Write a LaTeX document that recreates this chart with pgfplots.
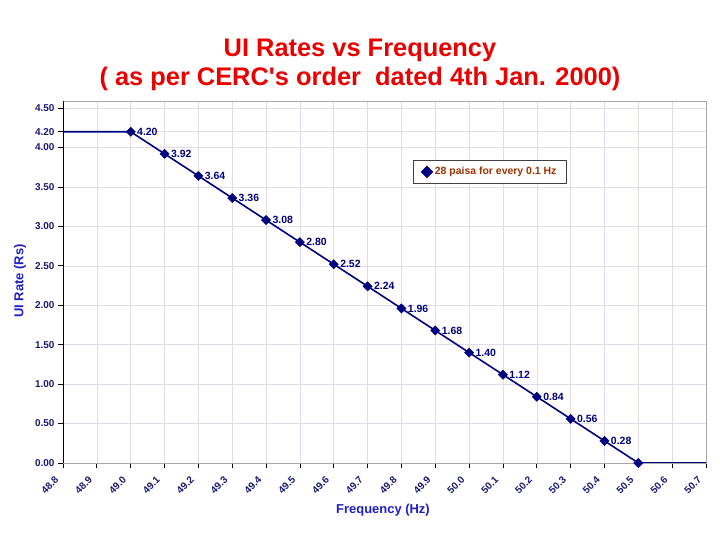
\documentclass[border=0pt]{standalone}
\usepackage{pgfplots}
\pgfplotsset{compat=1.18}
\usepackage{fontspec}
\setmainfont{Liberation Sans}
\definecolor{navy}{RGB}{0,0,128}
\definecolor{tickblue}{RGB}{25,25,115}
\definecolor{labelblue}{RGB}{30,30,200}
\definecolor{legbrown}{RGB}{153,51,0}
\definecolor{gridgray}{RGB}{222,222,232}
\definecolor{titlered}{RGB}{235,0,0}
\begin{document}
\begin{tikzpicture}[x=1bp,y=1bp]
\path[use as bounding box] (0,0) rectangle (720,540);
\node[font=\bfseries\fontsize{25.5}{30}\selectfont, text=titlered] at (360,490) {UI Rates vs Frequency};
\node[font=\bfseries\fontsize{25.5}{30}\selectfont, text=titlered] at (360,461) {( as per CERC\textquotesingle s order\ \ dated 4th Jan. 2000)};
\node[font=\bfseries\fontsize{13}{15}\selectfont, text=labelblue, rotate=90] at (20,259) {UI Rate (Rs)};
\node[font=\bfseries\fontsize{13}{15}\selectfont, text=labelblue] at (383,30) {Frequency (Hz)};
\begin{axis}[
  at={(63bp,77bp)}, anchor=south west,
  width=643bp, height=362bp, scale only axis,
  xmin=48.8, xmax=50.7, ymin=0, ymax=4.59,
  xtick={48.8,48.9,49.0,49.1,49.2,49.3,49.4,49.5,49.6,49.7,49.8,49.9,50.0,50.1,50.2,50.3,50.4,50.5,50.6,50.7},
  ytick={0,0.5,1,1.5,2,2.5,3,3.5,4,4.2,4.5},
  grid=major,
  major grid style={gridgray, line width=0.6pt},
  axis line style={draw=gray!70, line width=0.6pt},
  tick align=outside, tick pos=left,
  major tick length=5bp,
  tick style={black, line width=0.7pt},
  xticklabel style={rotate=45, anchor=east, font=\bfseries\fontsize{10}{12}\selectfont, text=tickblue,
    inner sep=1pt, xshift=-10.5bp, yshift=-2.7bp,
    /pgf/number format/assume math mode=true,
    /pgf/number format/fixed, /pgf/number format/fixed zerofill, /pgf/number format/precision=1},
  yticklabel style={font=\bfseries\fontsize{10}{12}\selectfont, text=tickblue,
    /pgf/number format/assume math mode=true,
    /pgf/number format/fixed, /pgf/number format/fixed zerofill, /pgf/number format/precision=2},
  legend style={at={(0.544,0.837)}, anchor=north west, draw=darkgray, line width=0.6pt,
    font=\bfseries\fontsize{10.5}{12}\selectfont, text=legbrown, inner xsep=8pt, inner ysep=5pt},
  legend cell align=left,
  legend image code/.code={\draw[navy, mark=square*, mark options={rotate=45, fill=navy, solid}, mark size=4.2pt, line width=0.5pt] plot coordinates {(0.25cm,0cm)};},
]
\addplot[navy, line width=1.6pt, forget plot] coordinates {
 (48.8,4.20) (49.0,4.20) (49.1,3.92) (49.2,3.64) (49.3,3.36) (49.4,3.08) (49.5,2.80)
 (49.6,2.52) (49.7,2.24) (49.8,1.96) (49.9,1.68) (50.0,1.40) (50.1,1.12) (50.2,0.84)
 (50.3,0.56) (50.4,0.28) (50.5,0.00) (50.7,0.00)
};
\addplot[only marks, mark=square*, mark size=3.3pt, mark options={rotate=45}, navy, fill=navy,
  nodes near coords,
  nodes near coords style={anchor=west, xshift=3pt, font=\bfseries\fontsize{10.5}{12}\selectfont, text=navy,
    /pgf/number format/assume math mode=true,
    /pgf/number format/fixed, /pgf/number format/fixed zerofill, /pgf/number format/precision=2},
  clip marker paths=false] coordinates {
 (49.0,4.20) (49.1,3.92) (49.2,3.64) (49.3,3.36) (49.4,3.08) (49.5,2.80)
 (49.6,2.52) (49.7,2.24) (49.8,1.96) (49.9,1.68) (50.0,1.40) (50.1,1.12) (50.2,0.84)
 (50.3,0.56) (50.4,0.28)
};
\addlegendentry{28 paisa for every 0.1 Hz}
\addplot[only marks, mark=square*, mark size=3.3pt, mark options={rotate=45}, navy, fill=navy, forget plot, clip marker paths=false] coordinates {(50.5,0.00)};
\draw[black, line width=0.8pt] (rel axis cs:0,1) -- (rel axis cs:0,0) -- (rel axis cs:1,0);
\end{axis}
\end{tikzpicture}
\end{document}
